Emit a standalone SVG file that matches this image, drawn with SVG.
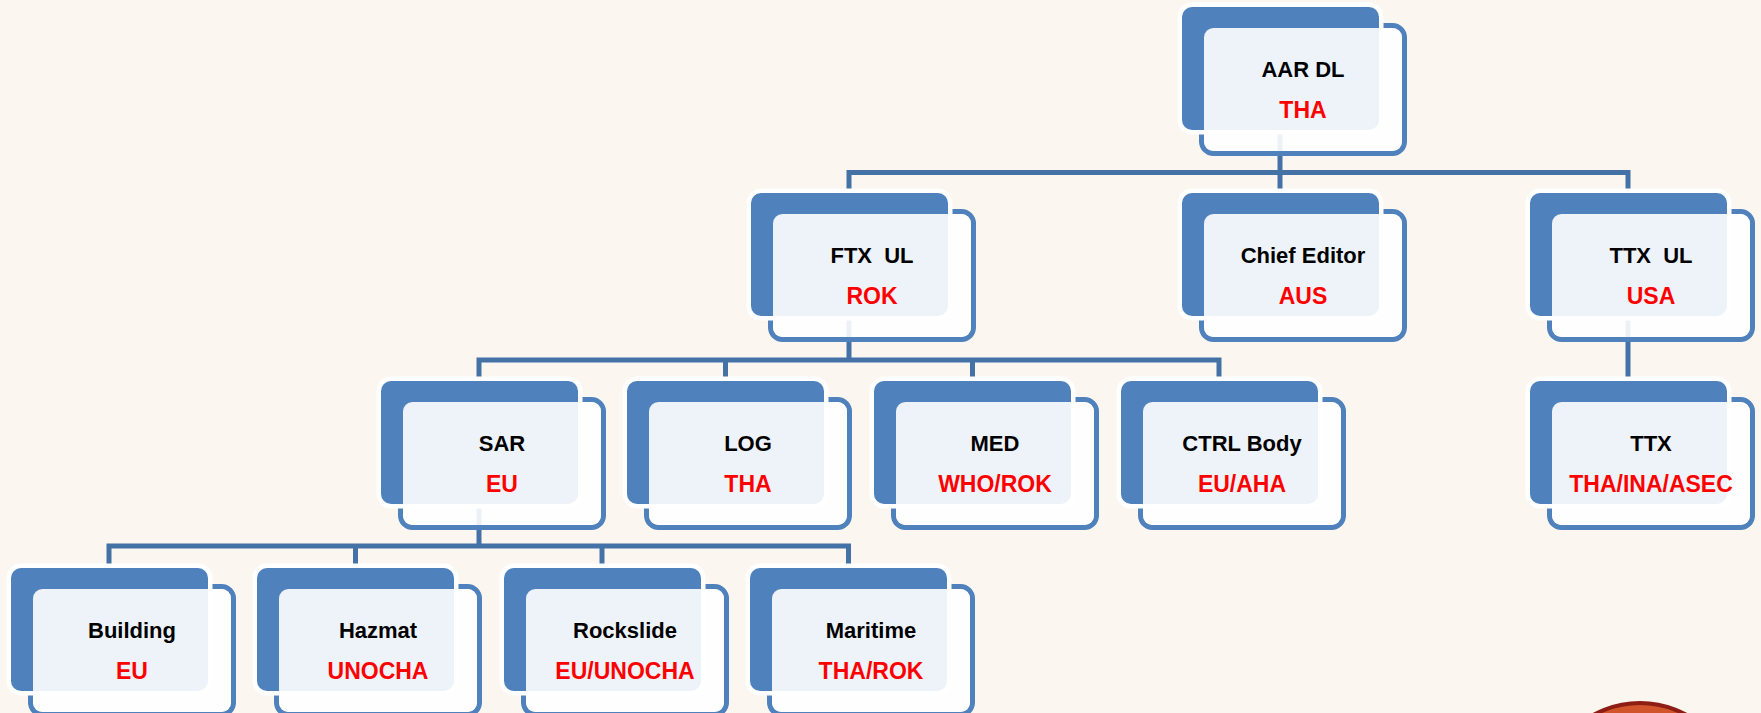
<svg xmlns="http://www.w3.org/2000/svg" width="1761" height="713" viewBox="0 0 1761 713">
<style>
.bg{fill:#FBF6F0}
.conn{fill:none;stroke:#4572A6;stroke-width:5;stroke-linejoin:miter;stroke-linecap:butt}
.fo{fill:none;stroke:#4F81BD;stroke-width:5}
.bk{fill:#4F81BD;stroke:#FFFFFF;stroke-width:9;paint-order:stroke}
.ov{fill:#FFFFFF;fill-opacity:0.9}
.t1{font-family:"Liberation Sans",Arial,sans-serif;font-weight:bold;font-size:22px;fill:#000000;text-anchor:middle}
.t2{font-family:"Liberation Sans",Arial,sans-serif;font-weight:bold;font-size:23px;fill:#FF0000;text-anchor:middle}
</style>
<defs>
<g id="box">
<rect class="fo" x="19.5" y="18.5" width="203" height="128" rx="12"/>
<rect class="bk" x="0" y="0" width="197" height="123" rx="10"/>
<rect class="ov" x="22" y="21" width="198" height="123" rx="9.5"/>
</g>
</defs>
<rect class="bg" x="0" y="0" width="1761" height="713"/>
<circle cx="1640" cy="800" r="97" fill="#D2542A" stroke="#8E1D14" stroke-width="4"/>
<g id="connectors">
<path class="conn" d="M1280,70 V172.5"/>
<path class="conn" d="M849,193 V172.5 H1628 V193"/>
<path class="conn" d="M1280,172.5 V193"/>
<path class="conn" d="M849,255 V360"/>
<path class="conn" d="M479,381 V360 H1219 V381"/>
<path class="conn" d="M725.5,360 V381"/>
<path class="conn" d="M972.5,360 V381"/>
<path class="conn" d="M1628,255 V381"/>
<path class="conn" d="M479,442 V546"/>
<path class="conn" d="M109,568 V546 H848.5 V568"/>
<path class="conn" d="M355.5,546 V568"/>
<path class="conn" d="M602,546 V568"/>
</g>
<g id="node-aar-dl"><use href="#box" x="1182" y="7"/><text class="t1" x="1303" y="77">AAR DL</text><text class="t2" x="1303" y="118">THA</text></g>
<g id="node-ftx-ul"><use href="#box" x="751" y="193"/><text class="t1" x="872" y="263" xml:space="preserve">FTX  UL</text><text class="t2" x="872" y="304">ROK</text></g>
<g id="node-chief-editor"><use href="#box" x="1182" y="193"/><text class="t1" x="1303" y="263">Chief Editor</text><text class="t2" x="1303" y="304">AUS</text></g>
<g id="node-ttx-ul"><use href="#box" x="1530" y="193"/><text class="t1" x="1651" y="263" xml:space="preserve">TTX  UL</text><text class="t2" x="1651" y="304">USA</text></g>
<g id="node-sar"><use href="#box" x="381" y="381"/><text class="t1" x="502" y="451">SAR</text><text class="t2" x="502" y="492">EU</text></g>
<g id="node-log"><use href="#box" x="627" y="381"/><text class="t1" x="748" y="451">LOG</text><text class="t2" x="748" y="492">THA</text></g>
<g id="node-med"><use href="#box" x="874" y="381"/><text class="t1" x="995" y="451">MED</text><text class="t2" x="995" y="492">WHO/ROK</text></g>
<g id="node-ctrl-body"><use href="#box" x="1121" y="381"/><text class="t1" x="1242" y="451">CTRL Body</text><text class="t2" x="1242" y="492">EU/AHA</text></g>
<g id="node-ttx"><use href="#box" x="1530" y="381"/><text class="t1" x="1651" y="451">TTX</text><text class="t2" x="1651" y="492">THA/INA/ASEC</text></g>
<g id="node-building"><use href="#box" x="11" y="568"/><text class="t1" x="132" y="638">Building</text><text class="t2" x="132" y="679">EU</text></g>
<g id="node-hazmat"><use href="#box" x="257" y="568"/><text class="t1" x="378" y="638">Hazmat</text><text class="t2" x="378" y="679">UNOCHA</text></g>
<g id="node-rockslide"><use href="#box" x="504" y="568"/><text class="t1" x="625" y="638">Rockslide</text><text class="t2" x="625" y="679">EU/UNOCHA</text></g>
<g id="node-maritime"><use href="#box" x="750" y="568"/><text class="t1" x="871" y="638">Maritime</text><text class="t2" x="871" y="679">THA/ROK</text></g>
</svg>
